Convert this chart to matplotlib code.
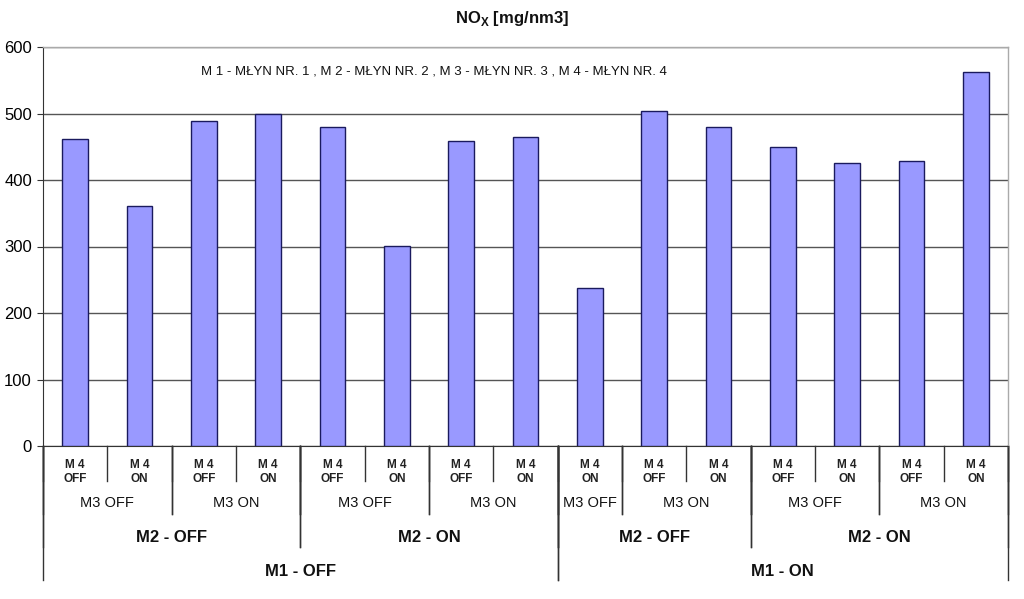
import matplotlib
matplotlib.use("Agg")
import matplotlib.pyplot as plt

plt.rcParams['font.family'] = ['Liberation Sans', 'DejaVu Sans']

values = [462, 361, 488, 499, 479, 301, 459, 465, 237, 504, 479, 450, 426, 429, 562]
m4_labels = ["M 4\nOFF", "M 4\nON", "M 4\nOFF", "M 4\nON",
             "M 4\nOFF", "M 4\nON", "M 4\nOFF", "M 4\nON",
             "M 4\nON", "M 4\nOFF", "M 4\nON",
             "M 4\nOFF", "M 4\nON", "M 4\nOFF", "M 4\nON"]
# (label, start index, count)
m3_groups = [("M3 OFF", 0, 2), ("M3 ON", 2, 2), ("M3 OFF", 4, 2), ("M3 ON", 6, 2),
             ("M3 OFF", 8, 1), ("M3 ON", 9, 2), ("M3 OFF", 11, 2), ("M3 ON", 13, 2)]
m2_groups = [("M2 - OFF", 0, 4), ("M2 - ON", 4, 4), ("M2 - OFF", 8, 3), ("M2 - ON", 11, 4)]
m1_groups = [("M1 - OFF", 0, 8), ("M1 - ON", 8, 7)]
yticks = [0, 100, 200, 300, 400, 500, 600]
title = "NO$_\\mathregular{X}$ [mg/nm3]"
note = "M 1 - MŁYN NR. 1 , M 2 - MŁYN NR. 2 , M 3 - MŁYN NR. 3 , M 4 - MŁYN NR. 4"

fig = plt.figure(figsize=(10.24, 5.99), dpi=100)
ax = fig.add_axes([43/1024, 1-446/599, (1008-43)/1024, (446-47)/599])

n = len(values)
x = list(range(n))
ax.bar(x, values, width=0.4, color='#9999FF', edgecolor='#1a1a5e', linewidth=1.0, zorder=3)
ax.set_xlim(-0.5, n - 0.5)
ax.set_ylim(0, 600)
ax.set_yticks(yticks)
ax.tick_params(axis='y', direction='out', length=4, labelsize=12, color='#333333', pad=4)
ax.set_xticks([])
ax.grid(axis='y', color='#555555', linewidth=1.0, zorder=1)
ax.set_axisbelow(True)
for side in ['top', 'right']:
    ax.spines[side].set_color('#aaaaaa')
    ax.spines[side].set_linewidth(1.0)
ax.spines['left'].set_color('#333333')
ax.spines['bottom'].set_color('#333333')

tr = ax.get_xaxis_transform()
H = 399.0
def fy(px):
    return (446 - px) / H

# M4 dividers (short)
for i in range(n + 1):
    ax.plot([i - 0.5, i - 0.5], [0, fy(481)], transform=tr, color='#333333', lw=1.0, clip_on=False)
for i, lab in enumerate(m4_labels):
    ax.text(i, fy(472), lab, transform=tr, ha='center', va='center', fontsize=8.5,
            fontweight='bold', color='#222222', linespacing=1.2)
# M3
for lab, s, c in m3_groups:
    for b in (s, s + c):
        ax.plot([b - 0.5, b - 0.5], [0, fy(514)], transform=tr, color='#333333', lw=1.0, clip_on=False)
    ax.text(s + (c - 1) / 2, fy(503), lab, transform=tr, ha='center', va='center', fontsize=10.5,
            color='#111111')
# M2
for lab, s, c in m2_groups:
    for b in (s, s + c):
        ax.plot([b - 0.5, b - 0.5], [0, fy(547)], transform=tr, color='#333333', lw=1.0, clip_on=False)
    ax.text(s + (c - 1) / 2, fy(537), lab, transform=tr, ha='center', va='center', fontsize=12,
            fontweight='bold', color='#111111')
# M1
for lab, s, c in m1_groups:
    for b in (s, s + c):
        ax.plot([b - 0.5, b - 0.5], [0, fy(580)], transform=tr, color='#333333', lw=1.0, clip_on=False)
    ax.text(s + (c - 1) / 2, fy(571), lab, transform=tr, ha='center', va='center', fontsize=12,
            fontweight='bold', color='#111111')

ax.text(5.58, 563, note, ha='center', va='center', fontsize=9.5, color='#111111', zorder=5)
fig.text(0.5, 1 - 19/599, title, ha='center', va='center', fontsize=12, fontweight='bold',
         color='#111111')

fig.savefig("out.png", dpi=100)
